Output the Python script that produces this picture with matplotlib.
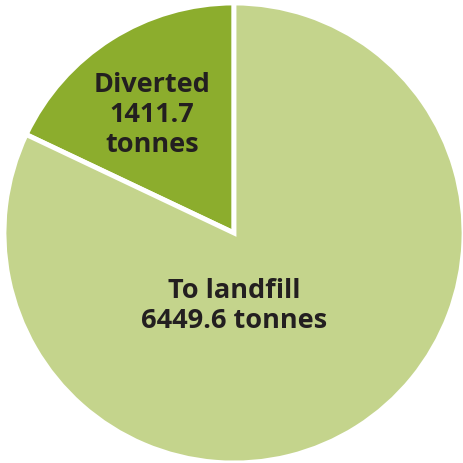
import matplotlib
matplotlib.use('Agg')
import matplotlib.pyplot as plt

labels = ['Diverted', 'To landfill']
tonnes = [1411.7, 6449.6]
colors = ['#8cad2d', '#c4d48c']

plt.rcParams['font.family'] = ['Open Sans', 'DejaVu Sans']

fig = plt.figure(figsize=(4.63, 4.63), dpi=100)
ax = fig.add_axes([0, 0, 1, 1])
ax.pie(tonnes, colors=colors, startangle=90, counterclock=True,
       wedgeprops=dict(edgecolor='white', linewidth=3.5))
ax.set_xlim(-234 / 230, 229 / 230)
ax.set_ylim(-230 / 230, 233 / 230)
ax.set_aspect('equal')
ax.axis('off')

txt = dict(ha='center', va='center', fontsize=19.5, fontweight='bold',
           color='#231f20', linespacing=1.22)
ax.text(-0.357, 0.513, '%s\n%.1f\ntonnes' % (labels[0], tonnes[0]), **txt)
ax.text(0.0, -0.317, '%s\n%.1f tonnes' % (labels[1], tonnes[1]), **txt)

fig.savefig('out.png', dpi=100, facecolor='white')
